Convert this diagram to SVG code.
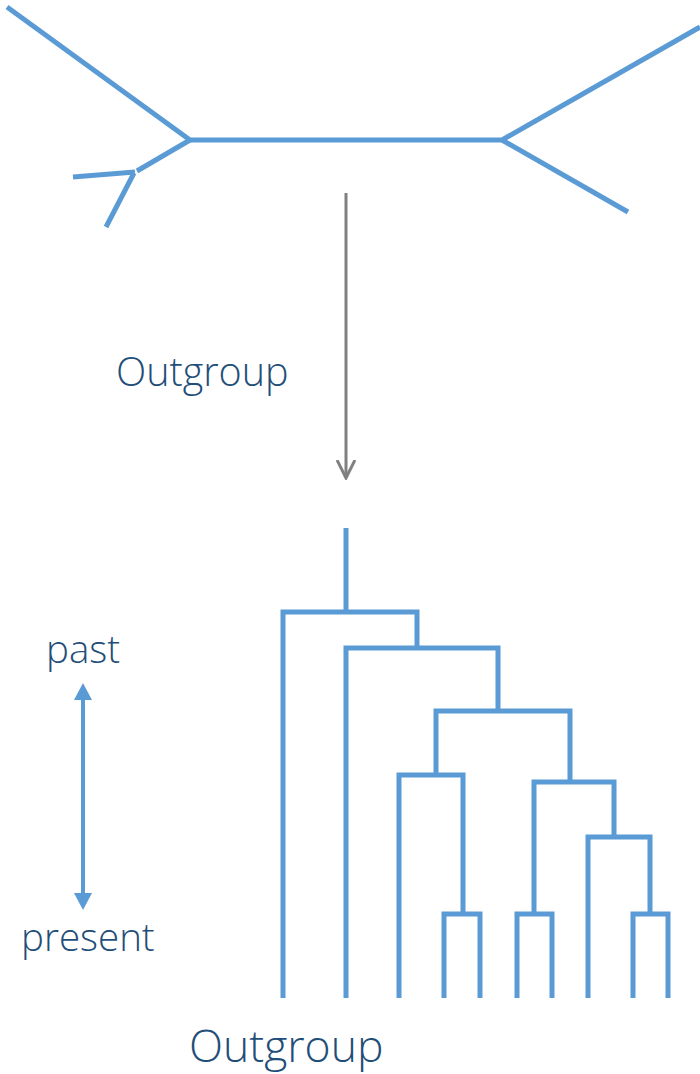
<svg xmlns="http://www.w3.org/2000/svg" width="700" height="1074" viewBox="0 0 700 1074">
  <style>
    .branch { fill: none; stroke: #5B9BD5; stroke-width: 5; stroke-linecap: butt; stroke-linejoin: miter; }
    .label { font-family: "Open Sans", "Liberation Sans", sans-serif; font-weight: 300; fill: #1F4E79; }
    .flow { fill: none; stroke: #808080; stroke-width: 3; }
    .time { stroke: #5B9BD5; stroke-width: 4; }
  </style>
  <defs>
    <!-- open chevron head, drawn along +x so orient="auto" points it down the line -->
    <marker id="chevron" viewBox="0 0 20 20" refX="18" refY="10" markerWidth="20" markerHeight="20" markerUnits="userSpaceOnUse" orient="auto">
      <path d="M0,1 L18,10 L0,19" fill="none" stroke="#808080" stroke-width="3"/>
    </marker>
  </defs>
  <rect width="700" height="1074" fill="#ffffff"/>

  <!-- unrooted tree -->
  <g id="unrooted-tree">
    <path class="branch" d="M7,7 L190,140 L502,140 L700,27"/>
    <path class="branch" d="M502,140 L628,212"/>
    <path class="branch" d="M190,140 L137,171"/>
    <path class="branch" d="M135,172 L73,177"/>
    <path class="branch" d="M134,173 L106,227"/>
  </g>

  <!-- rooted tree -->
  <g id="rooted-tree">
    <path class="branch" d="M346,528 L346,612"/>
    <path class="branch" d="M283,998 L283,612 L417,612 L417,648"/>
    <path class="branch" d="M346,998 L346,648 L498,648 L498,711"/>
    <path class="branch" d="M436,775 L436,711 L570,711 L570,782"/>
    <path class="branch" d="M399,998 L399,775 L463,775 L463,914"/>
    <path class="branch" d="M444,998 L444,914 L480,914 L480,998"/>
    <path class="branch" d="M534,914 L534,782 L614,782 L614,837"/>
    <path class="branch" d="M517,998 L517,914 L552,914 L552,998"/>
    <path class="branch" d="M588,998 L588,837 L650,837 L650,914"/>
    <path class="branch" d="M633,998 L633,914 L668,914 L668,998"/>
  </g>

  <!-- connectors -->
  <g id="connectors">
    <line class="flow" x1="346" y1="193" x2="346" y2="478" marker-end="url(#chevron)"/>
    <line class="time" x1="83" y1="698" x2="83" y2="895"/>
    <polygon points="83,683 74,700 92,700" fill="#5B9BD5"/>
    <polygon points="83,910 74,893 92,893" fill="#5B9BD5"/>
  </g>

  <g id="label-outgroup-top"><text class="label" x="116" y="386" font-size="39.5">Outgroup</text></g>
  <g id="label-past"><text class="label" x="46" y="663" font-size="38.5">past</text></g>
  <g id="label-present"><text class="label" x="21" y="951" font-size="38.5">present</text></g>
  <g id="label-outgroup-bottom"><text class="label" x="189" y="1062" font-size="44.5">Outgroup</text></g>
</svg>
